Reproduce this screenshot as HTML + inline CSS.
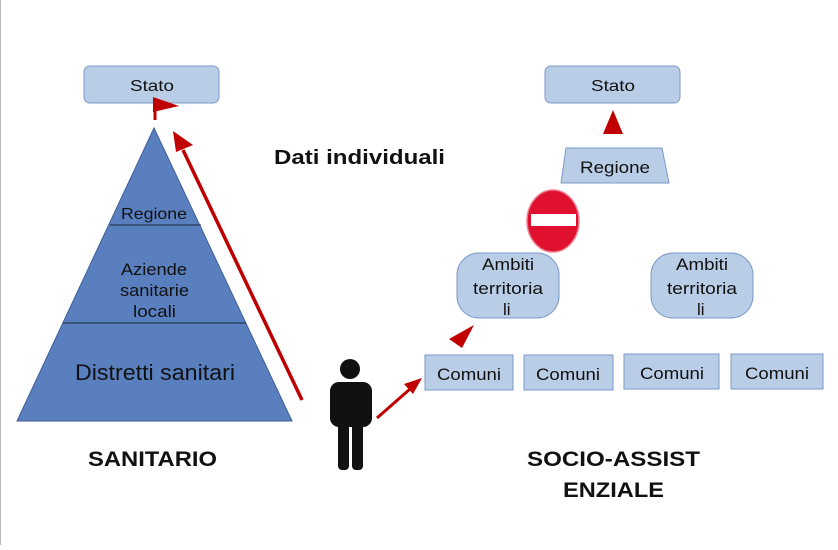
<!DOCTYPE html>
<html><head><meta charset="utf-8"><style>
body{margin:0;width:838px;height:545px;background:#fff;overflow:hidden;font-family:"Liberation Sans",sans-serif}
</style></head><body>
<svg width="838" height="545" viewBox="0 0 838 545" xmlns="http://www.w3.org/2000/svg" font-family="Liberation Sans, sans-serif">
<line x1="0.5" y1="0" x2="0.5" y2="545" stroke="#bbb"/>
<polygon points="154,128 292,421 17,421" fill="#5a7fbf" stroke="#3d5f99"/>
<line x1="110" y1="225" x2="201" y2="225" stroke="#1a2a44"/>
<line x1="63" y1="323" x2="246" y2="323" stroke="#1a2a44"/>
<text x="121" y="219" font-size="16" textLength="66" lengthAdjust="spacingAndGlyphs" fill="#111">Regione</text>
<text x="121" y="275" font-size="17" textLength="66" lengthAdjust="spacingAndGlyphs" fill="#111">Aziende</text>
<text x="120" y="296" font-size="17" textLength="69" lengthAdjust="spacingAndGlyphs" fill="#111">sanitarie</text>
<text x="133" y="317" font-size="17" textLength="43" lengthAdjust="spacingAndGlyphs" fill="#111">locali</text>
<text x="75" y="380" font-size="22" textLength="160" lengthAdjust="spacingAndGlyphs" fill="#111">Distretti sanitari</text>
<text x="88" y="466" font-size="21" font-weight="bold" textLength="129" lengthAdjust="spacingAndGlyphs" fill="#111">SANITARIO</text>
<rect x="84" y="66" width="135" height="37" rx="6" fill="#b9cde6" stroke="#7b9ac8"/>
<text x="130" y="91" font-size="16" textLength="44" lengthAdjust="spacingAndGlyphs" fill="#111">Stato</text>
<line x1="155" y1="105" x2="155" y2="120" stroke="#c00000" stroke-width="3"/>
<polygon points="153,97 179,106 153,112" fill="#c00000"/>
<line x1="302" y1="400" x2="183" y2="150" stroke="#c00000" stroke-width="3.5"/>
<polygon points="173,131 193,145 176,152" fill="#c00000"/>
<text x="274" y="164" font-size="20" font-weight="bold" textLength="171" lengthAdjust="spacingAndGlyphs" fill="#111">Dati individuali</text>
<g fill="#111">
<circle cx="350" cy="369" r="10"/>
<rect x="330" y="382" width="42" height="45" rx="9"/>
<rect x="338" y="410" width="11" height="60" rx="4"/>
<rect x="352" y="410" width="11" height="60" rx="4"/>
</g>
<line x1="377" y1="418" x2="410" y2="389" stroke="#c00000" stroke-width="3"/>
<polygon points="422,378 404,384 413,394" fill="#c00000"/>
<rect x="545" y="66" width="135" height="37" rx="6" fill="#b9cde6" stroke="#7b9ac8"/>
<text x="591" y="91" font-size="16" textLength="44" lengthAdjust="spacingAndGlyphs" fill="#111">Stato</text>
<polygon points="613,110 603,134 623,134" fill="#c00000"/>
<polygon points="566,148 662,148 669,183 561,183" fill="#b9cde6" stroke="#7b9ac8"/>
<text x="580" y="173" font-size="17" textLength="70" lengthAdjust="spacingAndGlyphs" fill="#111">Regione</text>
<ellipse cx="553" cy="221" rx="26" ry="31" fill="#e0102f" stroke="#f08090" stroke-width="1.5"/>
<rect x="531" y="214" width="45" height="12" fill="#fff"/>
<rect x="457" y="253" width="102" height="65" rx="22" fill="#b9cde6" stroke="#7b9ac8"/>
<text x="482" y="270" font-size="17" textLength="52" lengthAdjust="spacingAndGlyphs" fill="#111">Ambiti</text>
<text x="473" y="294" font-size="17" textLength="70" lengthAdjust="spacingAndGlyphs" fill="#111">territoria</text>
<text x="503" y="315" font-size="17" fill="#111">li</text>
<rect x="651" y="253" width="102" height="65" rx="22" fill="#b9cde6" stroke="#7b9ac8"/>
<text x="676" y="270" font-size="17" textLength="52" lengthAdjust="spacingAndGlyphs" fill="#111">Ambiti</text>
<text x="667" y="294" font-size="17" textLength="70" lengthAdjust="spacingAndGlyphs" fill="#111">territoria</text>
<text x="697" y="315" font-size="17" fill="#111">li</text>
<polygon points="474,325 449,339 462,348" fill="#c00000"/>
<rect x="425" y="355" width="88" height="35" fill="#b9cde6" stroke="#7b9ac8"/>
<text x="437" y="380" font-size="17" textLength="64" lengthAdjust="spacingAndGlyphs" fill="#111">Comuni</text>
<rect x="524" y="355" width="89" height="35" fill="#b9cde6" stroke="#7b9ac8"/>
<text x="536" y="380" font-size="17" textLength="64" lengthAdjust="spacingAndGlyphs" fill="#111">Comuni</text>
<rect x="624" y="354" width="95" height="35" fill="#b9cde6" stroke="#7b9ac8"/>
<text x="640" y="379" font-size="17" textLength="64" lengthAdjust="spacingAndGlyphs" fill="#111">Comuni</text>
<rect x="731" y="354" width="92" height="35" fill="#b9cde6" stroke="#7b9ac8"/>
<text x="745" y="379" font-size="17" textLength="64" lengthAdjust="spacingAndGlyphs" fill="#111">Comuni</text>
<text x="527" y="466" font-size="21" font-weight="bold" textLength="173" lengthAdjust="spacingAndGlyphs" fill="#111">SOCIO-ASSIST</text>
<text x="563" y="497" font-size="21" font-weight="bold" textLength="101" lengthAdjust="spacingAndGlyphs" fill="#111">ENZIALE</text>
</svg>
</body></html>
